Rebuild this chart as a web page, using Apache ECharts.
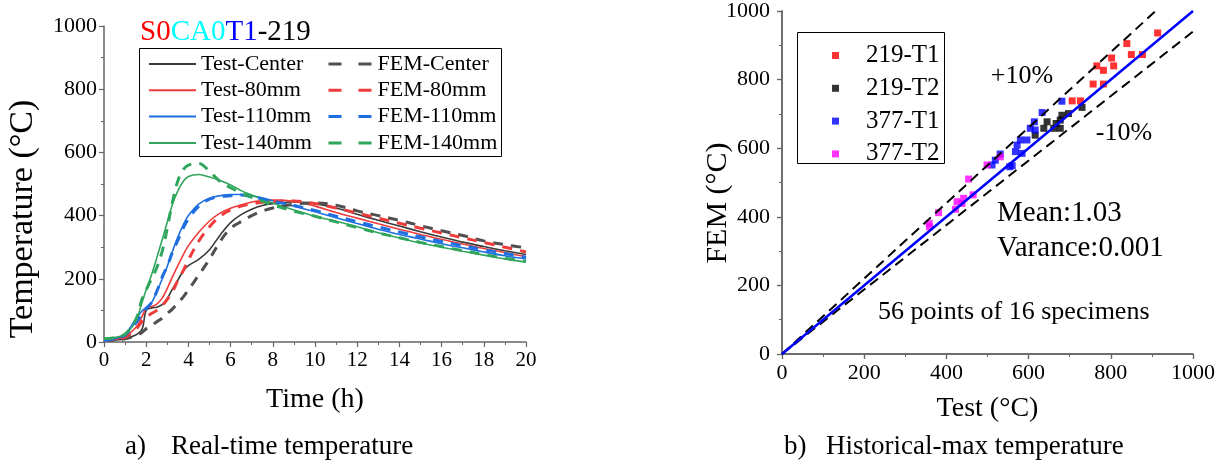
<!DOCTYPE html>
<html><head><meta charset="utf-8">
<script src="https://cdn.jsdelivr.net/npm/echarts@6/dist/echarts.min.js"></script>
<style>html,body{margin:0;padding:0;background:#fff}#c{width:1222px;height:465px}</style>
</head><body><div id="c"></div>
<script>
// ---------- Panel a) Real-time temperature ----------
const times       = [0,0.5,1,1.5,1.8,2,2.25,2.5,2.75,3,3.25,3.5,3.75,4,4.5,5,5.5,6,6.5,7,7.5,8,9,10,11,12,13,14,15,16,17,18,19,20];
const testCenter  = [5,6,10,22,40,100,108,110,118,138,168,196,224,242,262,292,338,378,403,420,432,438,443,438,424,404,385,367,349,332,316,302,289,277];
const femCenter   = [5,6,10,20,30,42,52,64,75,90,105,123,142,165,213,262,318,360,381,400,414,424,436,440,433,415,400,385,368,352,337,320,308,298];
const test80      = [5,8,18,45,80,108,112,120,138,170,207,242,275,305,348,383,408,423,434,443,447,449,445,430,410,392,374,357,340,325,310,296,283,270];
const fem80       = [5,8,15,40,65,80,90,100,115,135,160,195,225,260,320,365,398,418,430,437,442,445,446,438,424,408,392,376,360,345,330,315,300,285];
const test110     = [5,10,25,72,98,110,124,158,198,240,288,332,370,400,437,455,463,467,467,462,456,447,430,412,393,375,357,340,326,311,298,285,273,263];
const fem110      = [5,10,22,60,88,105,125,160,205,240,285,322,360,390,430,452,460,463,465,460,452,445,432,416,398,381,364,348,333,318,305,292,280,268];
const test140     = [10,14,25,65,125,165,212,266,322,380,437,478,508,524,530,522,511,497,479,465,452,440,418,398,382,365,346,329,313,300,287,275,263,253];
const fem140      = [10,14,25,70,135,165,200,235,285,360,445,510,545,560,565,540,508,488,472,458,446,434,414,398,380,362,345,330,315,302,289,277,265,255];
const timeTicks   = {min:0, max:20, interval:2};
const tempTicks   = {min:0, max:1000, interval:200};
const seriesNamesA = ['Test-Center','Test-80mm','Test-110mm','Test-140mm','FEM-Center','FEM-80mm','FEM-110mm','FEM-140mm'];

// ---------- Panel b) Historical-max temperature ----------
const t1_219_test = [914,839,850,877,802,807,766,782,757,782,706,726];
const t1_219_fem  = [936,905,873,873,863,840,840,827,787,787,738,738];
const t2_219_test = [616,637,645,661,677,681,677,697,730,667];
const t2_219_fem  = [638,658,677,658,682,696,658,701,719,672];
const t1_377_test = [681,633,614,604,616,596,580,572,568,584,560,554,511,519,531];
const t1_377_fem  = [737,704,677,658,653,624,624,609,590,585,549,546,551,565,583];
const t2_377_test = [531,499,454,465,442,426,422,438,381,358,359];
const t2_377_fem  = [575,551,510,464,454,444,422,439,412,381,371];
const fitLine   = [[0,0],[1000,1000]];
const upperLine = [[0,0],[909,1000]];
const lowerLine = [[0,0],[1000,940]];
const groupNames = ['219-T1','219-T2','377-T1','377-T2'];
const b_ticks = {min:0, max:1000, interval:200};

const FF = "'Liberation Serif','Times New Roman',serif";
const AX = '#666';
const zip = (a,b) => a.map((v,i)=>[v,b[i]]);
const plain = v => String(v);

const cols = {center:'#3a3a3a', femCenter:'#505050', r:'#ee3b3b', b:'#1f6fe0', g:'#30a65c'};

function lineSeries(name, ys, color, dashed){
  return {
    name, type:'line', xAxisIndex:0, yAxisIndex:0,
    data: zip(times, ys), showSymbol:false, symbol:'none', smooth:0.35,
    lineStyle: dashed ? {color, width:3, type:[10,8]} : {color, width:1.6},
    itemStyle:{color}, z: dashed?3:2, animation:false
  };
}

const axisCommon = (extra) => Object.assign({
  type:'value',
  axisLine:{show:true, lineStyle:{color:AX, width:1.5}},
  axisTick:{show:true, length:5, lineStyle:{color:AX, width:1.2}},
  minorTick:{show:true, splitNumber:2, length:3, lineStyle:{color:AX, width:1}},
  splitLine:{show:false},
  axisLabel:{color:'#000', fontFamily:FF, fontSize:21, formatter:plain},
  nameTextStyle:{color:'#000', fontFamily:FF, fontSize:28},
  nameLocation:'middle'
}, extra);

const chart = echarts.init(document.getElementById('c'), null, {renderer:'canvas'});
const option = {
  animation:false,
  backgroundColor:'#fff',
  title:{
    text:'{r|S0}{c|CA0}{b|T1}{k|-219}', left:135, top:13,
    textStyle:{fontFamily:FF, fontSize:29, fontWeight:'normal',
      rich:{r:{color:'#ff0000',fontFamily:FF,fontSize:29}, c:{color:'#00ffff',fontFamily:FF,fontSize:29},
            b:{color:'#0000ff',fontFamily:FF,fontSize:29}, k:{color:'#000',fontFamily:FF,fontSize:29}}}
  },
  grid:[
    {left:104, top:26, width:422, height:316},
    {left:782, top:11, width:411, height:343}
  ],
  legend:[
    {data:seriesNamesA.slice(0,4), orient:'vertical', left:143, top:48, itemWidth:47, itemHeight:12, itemGap:4.3,
     itemStyle:{opacity:0},
     textStyle:{fontFamily:FF, fontSize:22, color:'#000', lineHeight:22}, selectedMode:false},
    {data:seriesNamesA.slice(4), orient:'vertical', left:322, top:48, itemWidth:44, itemHeight:12, itemGap:4.3,
     itemStyle:{opacity:0}, lineStyle:{type:[13,17], width:3},
     textStyle:{fontFamily:FF, fontSize:22, color:'#000', lineHeight:22}, selectedMode:false},
    {data:groupNames, orient:'vertical', left:827, top:38, icon:'rect', itemWidth:7, itemHeight:7, itemGap:7.8,
     formatter:'{p| }{name}',
     textStyle:{fontFamily:FF, fontSize:25, color:'#000', lineHeight:24, rich:{p:{width:22, fontSize:25, lineHeight:24, fontFamily:FF}}}, selectedMode:false}
  ],
  xAxis:[
    axisCommon({gridIndex:0, min:timeTicks.min, max:timeTicks.max, interval:timeTicks.interval,
      name:'Time (h)', nameGap:44, axisLabel:{color:'#000', fontFamily:FF, fontSize:21, margin:8, formatter:plain}}),
    axisCommon({gridIndex:1, min:b_ticks.min, max:b_ticks.max, interval:b_ticks.interval,
      name:'Test (°C)', nameGap:41, axisLabel:{color:'#000', fontFamily:FF, fontSize:22, margin:8, formatter:plain}}),
    axisCommon({gridIndex:1, position:'top', min:b_ticks.min, max:b_ticks.max, interval:b_ticks.interval,
      axisLabel:{show:false}, axisTick:{show:true, inside:true, length:5, lineStyle:{color:AX,width:1.2}}})
  ],
  yAxis:[
    axisCommon({gridIndex:0, min:tempTicks.min, max:tempTicks.max, interval:tempTicks.interval,
      axisLabel:{color:'#000', fontFamily:FF, fontSize:22, margin:7, formatter:plain}}),
    axisCommon({gridIndex:1, min:b_ticks.min, max:b_ticks.max, interval:b_ticks.interval,
      axisLabel:{color:'#000', fontFamily:FF, fontSize:22, margin:12, formatter:plain}}),
    axisCommon({gridIndex:1, position:'right', min:b_ticks.min, max:b_ticks.max, interval:b_ticks.interval,
      axisLabel:{show:false}, axisTick:{show:true, inside:true, length:5, lineStyle:{color:AX,width:1.2}}})
  ],
  series:[
    lineSeries('Test-Center', testCenter, cols.center, false),
    lineSeries('Test-80mm', test80, cols.r, false),
    lineSeries('Test-110mm', test110, cols.b, false),
    lineSeries('Test-140mm', test140, cols.g, false),
    lineSeries('FEM-Center', femCenter, cols.femCenter, true),
    lineSeries('FEM-80mm', fem80, cols.r, true),
    lineSeries('FEM-110mm', fem110, cols.b, true),
    lineSeries('FEM-140mm', fem140, cols.g, true),
    {name:'219-T1', type:'scatter', xAxisIndex:1, yAxisIndex:1, symbol:'rect', symbolSize:7, data:zip(t1_219_test,t1_219_fem), itemStyle:{color:'#ff0000'}},
    {name:'219-T2', type:'scatter', xAxisIndex:1, yAxisIndex:1, symbol:'rect', symbolSize:7, data:zip(t2_219_test,t2_219_fem), itemStyle:{color:'#000000'}},
    {name:'377-T1', type:'scatter', xAxisIndex:1, yAxisIndex:1, symbol:'rect', symbolSize:7, data:zip(t1_377_test,t1_377_fem), itemStyle:{color:'#0000ff'}},
    {name:'377-T2', type:'scatter', xAxisIndex:1, yAxisIndex:1, symbol:'rect', symbolSize:7, data:zip(t2_377_test,t2_377_fem), itemStyle:{color:'#ff00ff'}},
    {name:'upper', type:'line', xAxisIndex:1, yAxisIndex:1, data:upperLine, symbol:'none', lineStyle:{color:'#000', width:2, type:[10,6]}, z:4, silent:true},
    {name:'lower', type:'line', xAxisIndex:1, yAxisIndex:1, data:lowerLine, symbol:'none', lineStyle:{color:'#000', width:2, type:[10,6]}, z:4, silent:true},
    {name:'fit', type:'line', xAxisIndex:1, yAxisIndex:1, data:fitLine, symbol:'none', lineStyle:{color:'#0000ff', width:2.5}, z:5, silent:true}
  ],
  graphic:[
    {type:'rect', shape:{x:139.5, y:48.5, width:362, height:108}, style:{fill:null, stroke:'#000', lineWidth:1}, z:1},
    {type:'rect', shape:{x:797.5, y:32.5, width:147, height:131}, style:{fill:null, stroke:'#000', lineWidth:1}, z:1},
    {type:'text', x:23, y:219, rotation:Math.PI/2, style:{text:'Temperature (°C)', font:'34px '+FF, fill:'#000', textAlign:'center', textVerticalAlign:'middle'}},
    {type:'text', x:718, y:203, rotation:Math.PI/2, style:{text:'FEM (°C)', font:'30px '+FF, fill:'#000', textAlign:'center', textVerticalAlign:'middle'}},
    {type:'text', x:1022, y:76, style:{text:'+10%', font:'26px '+FF, fill:'#000', textAlign:'center', textVerticalAlign:'middle'}},
    {type:'text', x:1124, y:133, style:{text:'-10%', font:'26px '+FF, fill:'#000', textAlign:'center', textVerticalAlign:'middle'}},
    {type:'text', x:997, y:213, style:{text:'Mean:1.03', font:'29px '+FF, fill:'#000', textAlign:'left', textVerticalAlign:'middle'}},
    {type:'text', x:997, y:248, style:{text:'Varance:0.001', font:'29px '+FF, fill:'#000', textAlign:'left', textVerticalAlign:'middle'}},
    {type:'text', x:878, y:312, style:{text:'56 points of 16 specimens', font:'26px '+FF, fill:'#000', textAlign:'left', textVerticalAlign:'middle'}},
    {type:'text', x:125, y:447, style:{text:'a)', font:'27px '+FF, fill:'#000', textAlign:'left', textVerticalAlign:'middle'}},
    {type:'text', x:171, y:447, style:{text:'Real-time temperature', font:'27px '+FF, fill:'#000', textAlign:'left', textVerticalAlign:'middle'}},
    {type:'text', x:784, y:447, style:{text:'b)', font:'27px '+FF, fill:'#000', textAlign:'left', textVerticalAlign:'middle'}},
    {type:'text', x:826, y:447, style:{text:'Historical-max temperature', font:'27px '+FF, fill:'#000', textAlign:'left', textVerticalAlign:'middle'}}
  ]
};
chart.setOption(option);
</script>
</body></html>
